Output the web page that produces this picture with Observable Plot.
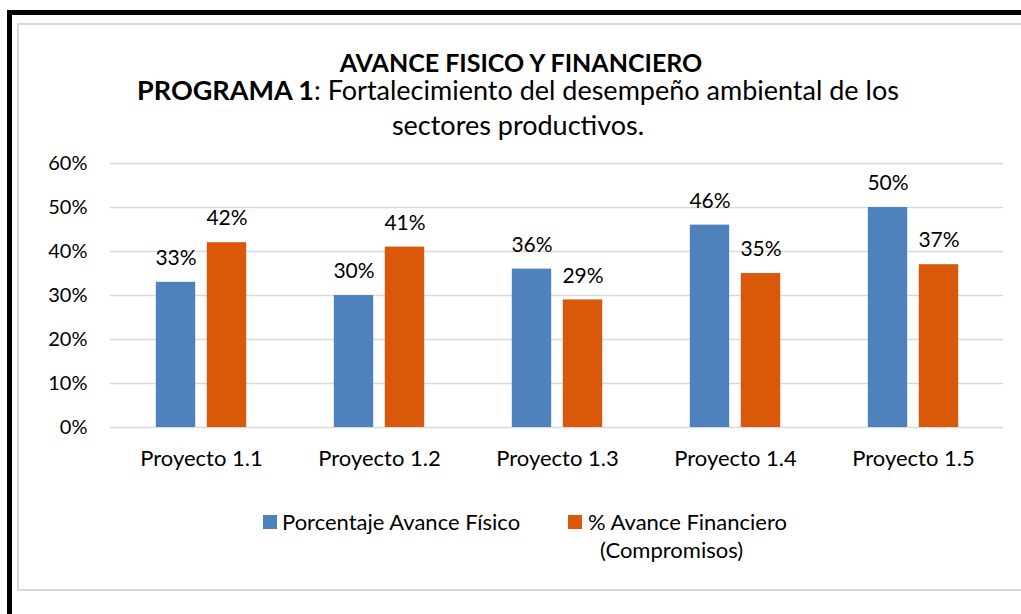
<!DOCTYPE html>
<html><head><meta charset="utf-8">
<script src="https://cdn.jsdelivr.net/npm/d3@7"></script>
<script src="https://cdn.jsdelivr.net/npm/@observablehq/plot@0.6"></script>
<style>
html,body{margin:0;padding:0;background:#fff;}
body{width:1021px;height:614px;position:relative;overflow:hidden;font-family:Lato,"Open Sans",sans-serif;color:#000;}
.frame{position:absolute;left:7px;top:10px;width:1100px;height:700px;border-left:5px solid #000;border-top:5px solid #000;}
.inner{position:absolute;left:17px;top:23px;width:1100px;height:564px;border:2px solid #d9d9d9;}
.line{position:absolute;left:0;width:1040px;text-align:center;line-height:0;height:0;white-space:nowrap;}
.t1{top:62px;font-size:25px;font-weight:bold;left:1px;}
.t2{top:90px;font-size:27px;left:-2px;}
.t3{top:125px;font-size:27px;left:-2px;}
#chart{position:absolute;left:0;top:140px;}
.leg{position:absolute;line-height:0;height:0;white-space:nowrap;font-size:22px;}
.sw{position:absolute;width:14px;height:14px;}
</style></head>
<body>
<div class="frame"></div>
<div class="inner"></div>
<div class="line t1">AVANCE FISICO Y FINANCIERO</div>
<div class="line t2"><b>PROGRAMA 1</b>: Fortalecimiento del desempeño ambiental de los</div>
<div class="line t3">sectores productivos.</div>
<div id="chart"></div>
<div id="legend"></div>
<script>
const categories = ["Proyecto 1.1", "Proyecto 1.2", "Proyecto 1.3", "Proyecto 1.4", "Proyecto 1.5"];
const fisico = [0.33, 0.30, 0.36, 0.46, 0.50];
const financiero = [0.42, 0.41, 0.29, 0.35, 0.37];
const seriesNames = ["Porcentaje Avance Físico", "% Avance Financiero (Compromisos)"];
const seriesColors = ["#4F81BD", "#D9580A"];
const yTicks = [0, 0.1, 0.2, 0.3, 0.4, 0.5, 0.6];

const rowsF = categories.map((c, i) => ({cat: c, value: fisico[i], series: seriesNames[0]}));
const rowsA = categories.map((c, i) => ({cat: c, value: financiero[i], series: seriesNames[1]}));

const W = 1021, ML = 110, MR = 18;
const band = (W - ML - MR) / categories.length;
const barW = 40, gap = 11;
const inset = (band - barW) / 2;
const off = (barW + gap) / 2;
const fmt = d3.format(".0%");

const chart = Plot.plot({
  width: W, height: 340,
  marginLeft: ML, marginRight: MR, marginTop: 23, marginBottom: 53,
  style: {fontFamily: "Lato, 'Open Sans', sans-serif", fontSize: "20px", color: "#000", background: "transparent"},
  x: {domain: categories, padding: 0},
  y: {domain: [0, 0.6]},
  marks: [
    Plot.gridY(yTicks, {stroke: "#d9d9d9", strokeOpacity: 1, strokeWidth: 1.5}),
    Plot.axisY(yTicks, {tickSize: 0, tickPadding: 23, tickFormat: fmt, fontSize: 20, fill: "#000", label: null}),
    Plot.axisX({tickSize: 0, tickPadding: 23, fontSize: 22, fill: "#000", label: null}),
    Plot.barY(rowsF, {x: "cat", y: "value", fill: seriesColors[0], insetLeft: inset, insetRight: inset, dx: -off}),
    Plot.barY(rowsA, {x: "cat", y: "value", fill: seriesColors[1], insetLeft: inset, insetRight: inset, dx: off}),
    Plot.text(rowsF, {x: "cat", y: "value", text: d => fmt(d.value), dx: -off, dy: -24, fontSize: 21, fill: "#000"}),
    Plot.text(rowsA, {x: "cat", y: "value", text: d => fmt(d.value), dx: off, dy: -24, fontSize: 21, fill: "#000"})
  ]
});
document.getElementById("chart").appendChild(chart);

const leg = document.getElementById("legend");
leg.innerHTML = `
<div class="sw" style="left:263px;top:515px;background:${seriesColors[0]}"></div>
<div class="leg" style="left:282px;top:522px;">${seriesNames[0]}</div>
<div class="sw" style="left:568px;top:515px;background:${seriesColors[1]}"></div>
<div class="leg" style="left:588px;top:522px;">% Avance Financiero</div>
<div class="leg" style="left:600px;top:550px;">(Compromisos)</div>`;
</script>
</body></html>
